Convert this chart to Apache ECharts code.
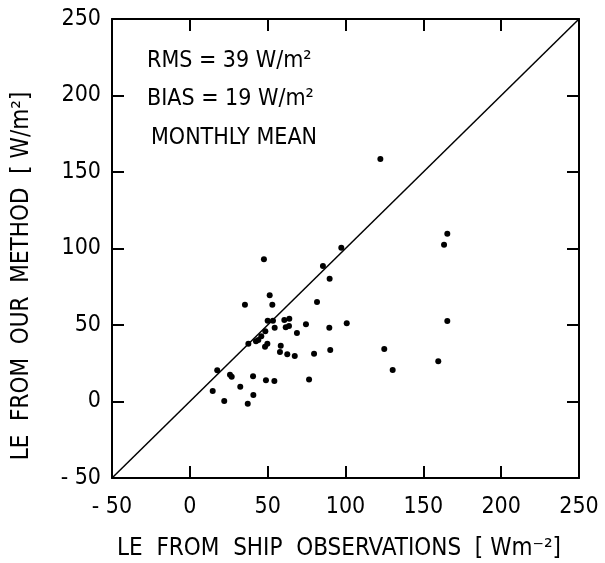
<!DOCTYPE html>
<html><head><meta charset="utf-8">
<script src="https://cdn.jsdelivr.net/npm/echarts@6/dist/echarts.min.js"></script>
<style>html,body{margin:0;padding:0;background:#fff}#c{width:605px;height:563px}</style>
</head><body><div id="c"></div>
<script>
// LE from ship observations (x) vs LE from our method (y), W/m2
const shipLE = [97.3,47.6,85.5,89.8,51.3,35.4,53.0,81.7,50.0,53.4,60.7,63.9,54.5,61.6,63.7,74.6,89.6,100.8,48.5,68.8,45.9,44.0,42.5,37.6,49.8,48.3,58.4,57.9,62.6,67.4,79.8,90.2,17.6,25.8,26.9,40.6,48.9,54.3,76.6,32.4,14.7,40.8,22.1,37.2,122.4,165.4,163.3,165.4,124.9,130.3,159.6];
const methodLE = [100.5,93.0,88.6,80.3,69.4,63.3,63.3,65.0,52.8,52.8,53.3,54.1,48.2,48.5,49.3,50.5,48.2,51.1,45.9,44.8,42.6,40.2,39.3,37.8,37.8,35.8,36.5,32.4,30.9,29.7,31.2,33.7,20.4,17.5,16.2,16.5,13.9,13.4,14.3,9.7,6.9,4.3,0.3,-1.4,158.5,109.7,102.5,52.6,34.3,20.6,26.3];
const diagonal = [-50, 250];
const tickValues = [-50, 0, 50, 100, 150, 200, 250];
const tickLabels = ['- 50', '0', '50', '100', '150', '200', '250'];
const statLines = ['RMS = 39 W/m²', 'BIAS = 19 W/m²', 'MONTHLY MEAN'];
const xTitle = 'LE  FROM  SHIP  OBSERVATIONS  [ Wm⁻²]';
const yTitle = 'LE  FROM  OUR  METHOD  [ W/m²]';

const FONT = '"DejaVu Sans Condensed","Liberation Sans Narrow",sans-serif';
const points = shipLE.map((x, i) => [x, methodLE[i]]);
const labelFmt = v => { const i = tickValues.indexOf(v); return i >= 0 ? tickLabels[i] : ''; };

const axisCommon = {
  type: 'value', min: diagonal[0], max: diagonal[1], interval: 50,
  axisLine: { show: true, onZero: false, lineStyle: { color: '#000', width: 2 } },
  axisTick: { show: true, inside: true, length: 12, lineStyle: { color: '#000', width: 2 } },
  splitLine: { show: false }
};

const chart = echarts.init(document.getElementById('c'), null, { renderer: 'canvas' });
chart.setOption({
  animation: false,
  backgroundColor: '#fff',
  grid: { left: 112, right: 26, top: 19, bottom: 85 },
  xAxis: [
    Object.assign({}, axisCommon, { position: 'bottom',
      axisLabel: { show: true, formatter: labelFmt, color: '#000', fontFamily: FONT, fontSize: 23, fontWeight: 500, margin: 18 } }),
    Object.assign({}, axisCommon, { position: 'top', axisLabel: { show: false } })
  ],
  yAxis: [
    Object.assign({}, axisCommon, { position: 'left',
      axisLabel: { show: true, formatter: labelFmt, color: '#000', fontFamily: FONT, fontSize: 23, fontWeight: 500, margin: 11 } }),
    Object.assign({}, axisCommon, { position: 'right', axisLabel: { show: false } })
  ],
  series: [
    { type: 'line', xAxisIndex: 0, yAxisIndex: 0, data: [[diagonal[0], diagonal[0]], [diagonal[1], diagonal[1]]],
      showSymbol: false, lineStyle: { color: '#000', width: 1.5 }, silent: true },
    { type: 'scatter', xAxisIndex: 0, yAxisIndex: 0, data: points, symbol: 'circle', symbolSize: 6,
      itemStyle: { color: '#000', opacity: 1 } }
  ],
  graphic: [
    { type: 'text', left: 147, top: 50, style: { text: statLines[0], font: '23px ' + FONT, fill: '#000' } },
    { type: 'text', left: 147, top: 88, style: { text: statLines[1], font: '23px ' + FONT, fill: '#000' } },
    { type: 'text', left: 151, top: 127, style: { text: statLines[2], font: '23px ' + FONT, fill: '#000' } },
    { type: 'text', x: 339, y: 549, style: { text: xTitle, font: '24px ' + FONT, fill: '#000', align: 'center', verticalAlign: 'middle' } },
    { type: 'text', x: 22, y: 276, rotation: Math.PI / 2, style: { text: yTitle, font: '24px ' + FONT, fill: '#000', align: 'center', verticalAlign: 'middle' } }
  ]
});
</script></body></html>
